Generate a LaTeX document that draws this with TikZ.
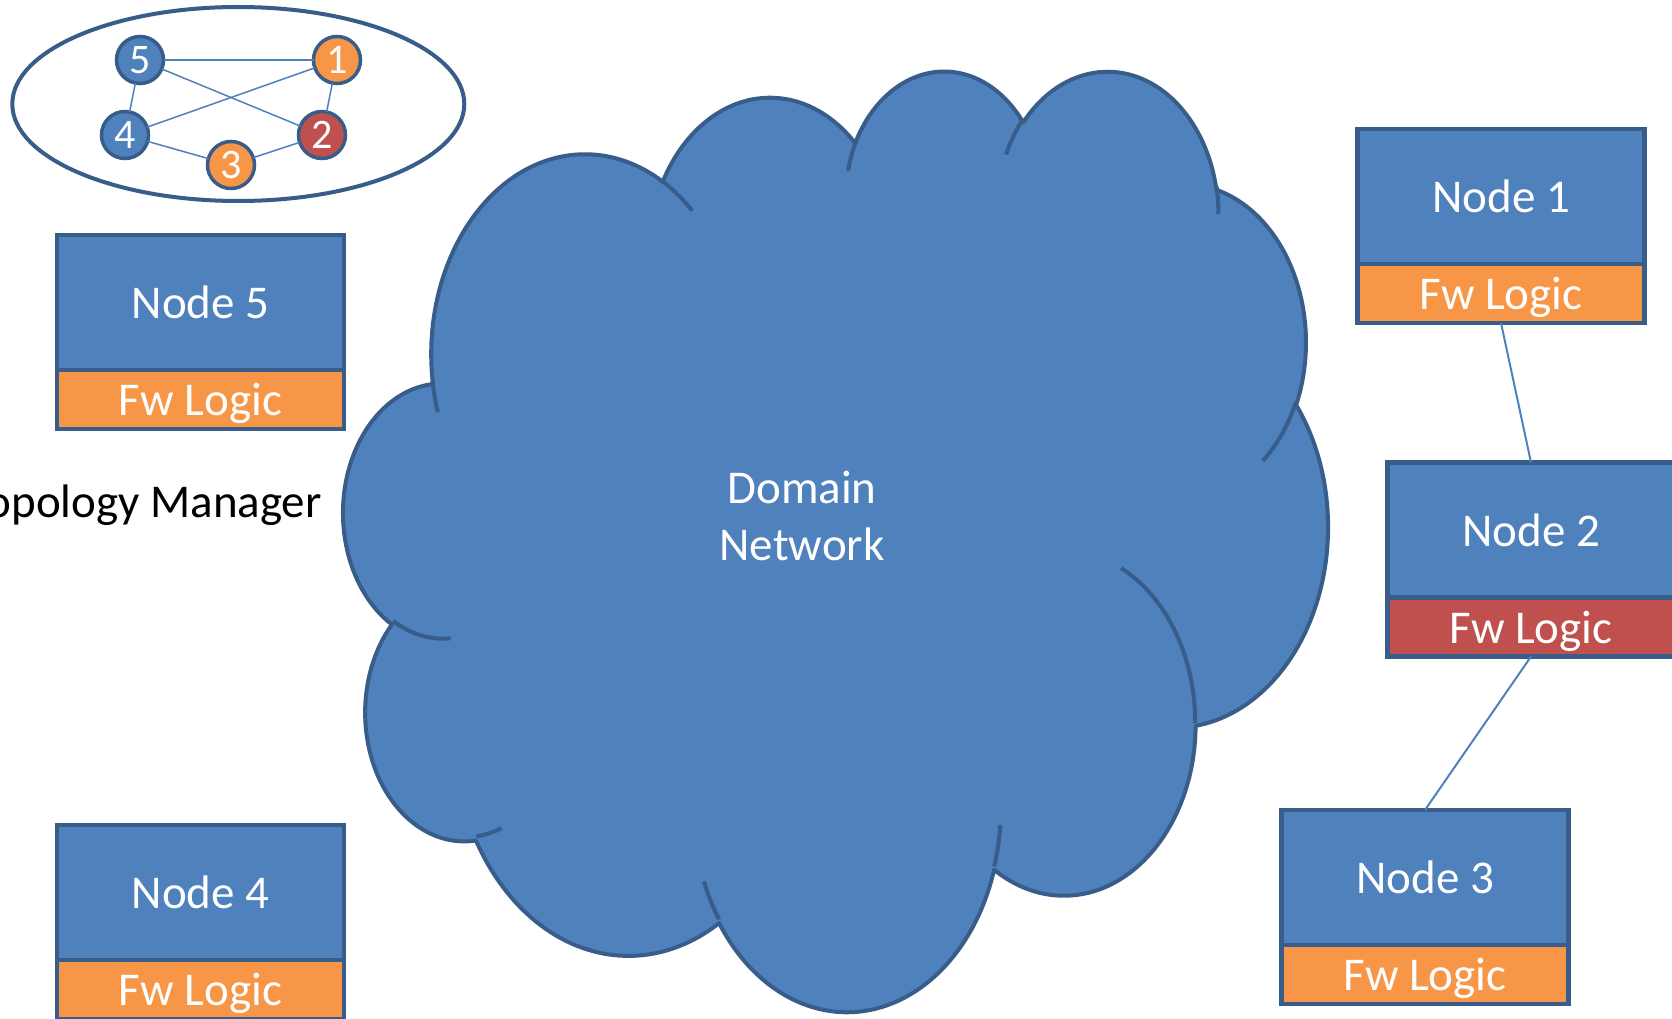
\documentclass[tikz,border=0pt]{standalone}
\usepackage{fontspec}
\setmainfont{Carlito}
\usetikzlibrary{positioning}

\definecolor{boxblue}{HTML}{4F81BD}
\definecolor{rimblue}{HTML}{385D8A}
\definecolor{fworange}{HTML}{F79646}
\definecolor{fwred}{HTML}{C0504D}

\newcommand\bigfont{\fontsize{47}{57.5}\selectfont}
\newcommand\numfont{\fontsize{42}{42}\selectfont}

% cloud on the 43200 grid, numbers given in thousands
\newcommand\cloudx{22.774}
\newcommand\cloudy{21.767}
\newcommand\cloudpt[2]{({343.8+#1*\cloudx},{68.45+#2*\cloudy})}
\newcommand\cloudmove[3]{\xdef#1{#1 \cloudpt{#2}{#3}}}
\newcommand\cloudarc[5]{%
  \pgfmathsetmacro\cla{atan2(#2*sin(#4),#3*cos(#4))}%
  \pgfmathsetmacro\clb{atan2(#2*sin(#4+#5),#3*cos(#4+#5))}%
  \pgfmathsetmacro\cld{\clb-\cla}%
  \pgfmathsetmacro\cld{\cld+360*(\cld<0)}%
  \pgfmathsetmacro\cls{-(\cla)}%
  \pgfmathsetmacro\cle{-(\cld)}%
  \pgfmathsetmacro\clrx{#2*\cloudx}%
  \pgfmathsetmacro\clry{#3*\cloudy}%
  \xdef#1{#1 arc[start angle=\cls, delta angle=\cle, x radius=\clrx pt, y radius=\clry pt]}%
}

\begin{document}
\begin{tikzpicture}[x=1pt, y=-1pt,
    nodebox/.style={draw=rimblue, fill=boxblue, line width=4.5pt, minimum width=287pt,
      minimum height=135pt, inner sep=0pt, outer sep=0pt, text=white, font=\bigfont},
    fwbox/.style={nodebox, minimum height=59pt, text depth=0pt},
    tnode/.style={draw=rimblue, circle, line width=3.5pt, minimum size=47pt,
      inner sep=0pt, outer sep=0pt, text=white, font=\numfont},
    link/.style={draw=boxblue, line width=2pt},
    rim/.style={draw=rimblue, line width=4pt}]
    \useasboundingbox (0,0) rectangle (1672,1019);
    \clip (0,0) rectangle (1672,1019);

    % domain network cloud
    \gdef\cloudout{}
    \cloudmove\cloudout{3.900}{14.370}
    \cloudarc\cloudout{6.753}{9.190}{-190.4875}{123.7805}
    \cloudarc\cloudout{5.333}{7.267}{-144.1024}{89.9452}
    \cloudarc\cloudout{4.365}{5.945}{-145.8079}{99.7230}
    \cloudarc\cloudout{4.857}{6.595}{-130.9861}{117.2417}
    \cloudarc\cloudout{5.333}{7.273}{-78.7089}{109.0269}
    \cloudarc\cloudout{6.775}{9.220}{-46.2673}{130.2690}
    \cloudarc\cloudout{5.785}{7.867}{0.6250}{114.0333}
    \cloudarc\cloudout{6.752}{9.215}{22.4516}{115.1726}
    \cloudarc\cloudout{7.720}{10.543}{66.2426}{75.7110}
    \cloudarc\cloudout{4.360}{5.918}{-274.9421}{146.7356}
    \cloudarc\cloudout{4.345}{5.945}{-246.8285}{152.5189}
    \path[fill=boxblue, rim, line join=round] \cloudout -- cycle;

    \gdef\cloudin{}
    \cloudmove\cloudin{4.693}{26.177}  \cloudarc\cloudin{4.345}{5.945}{86.7420}{26.4295}
    \cloudmove\cloudin{6.928}{34.899}  \cloudarc\cloudin{4.360}{5.918}{73.6105}{11.4475}
    \cloudmove\cloudin{16.478}{39.090} \cloudarc\cloudin{6.752}{9.215}{137.6242}{14.0811}
    \cloudmove\cloudin{28.827}{34.751} \cloudarc\cloudin{6.752}{9.215}{6.4533}{15.9984}
    \cloudmove\cloudin{34.129}{22.954} \cloudarc\cloudin{5.785}{7.867}{-70.2924}{70.9174}
    \cloudmove\cloudin{41.798}{15.354} \cloudarc\cloudin{5.333}{7.273}{30.3180}{27.7515}
    \cloudmove\cloudin{38.324}{5.426}  \cloudarc\cloudin{4.857}{6.595}{-13.7443}{14.8589}
    \cloudmove\cloudin{29.078}{3.952}  \cloudarc\cloudin{4.857}{6.595}{-149.1815}{18.1954}
    \cloudmove\cloudin{22.141}{4.720}  \cloudarc\cloudin{4.365}{5.945}{-163.4943}{17.6864}
    \cloudmove\cloudin{14.000}{5.192}  \cloudarc\cloudin{6.753}{9.190}{-66.7070}{12.3194}
    \cloudmove\cloudin{4.127}{15.789}  \cloudarc\cloudin{6.753}{9.190}{157.6544}{11.8582}
    \draw[rim] \cloudin;

    \node[align=center, text=white, font=\bigfont] (dn) at (802,516) {Domain\\Network};

    % topology manager
    \draw[draw=rimblue, line width=4pt, fill=white] (238.3,104) ellipse [x radius=226pt, y radius=97pt];
    \node[tnode, fill=boxblue] (t5) at (140,60) {5};
    \node[tnode, fill=fworange] (t1) at (337,60) {1};
    \node[tnode, fill=boxblue] (t4) at (125,135) {4};
    \node[tnode, fill=fwred] (t2) at (322,135) {2};
    \node[tnode, fill=fworange] (t3) at (231,165) {3};

    \draw[link, line width=1.5pt] (t5) -- (t1);
    \draw[link, line width=1.5pt] (t5) -- (t2);
    \draw[link, line width=1.5pt] (t5) -- (t4);
    \draw[link, line width=1.5pt] (t1) -- (t4);
    \draw[link, line width=1.5pt] (t1) -- (t2);
    \draw[link, line width=1.5pt] (t4) -- (t3);
    \draw[link, line width=1.5pt] (t3) -- (t2);

    \node[anchor=base east, inner sep=0pt, font=\bigfont] (tm) at (322,517) {Topology Manager};

    % nodes
    \node[nodebox] (n5) at (200.5,302.5) {Node 5};
    \node[fwbox, fill=fworange, below=0pt of n5] (f5) {Fw Logic};

    \node[nodebox] (n4) at (200.5,892.5) {Node 4};
    \node[fwbox, fill=fworange, below=0pt of n4] (f4) {Fw Logic};

    \node[nodebox] (n1) at (1501,196.5) {Node 1};
    \node[fwbox, fill=fworange, below=0pt of n1] (f1) {Fw Logic};

    \node[nodebox] (n2) at (1531,530) {Node 2};
    \node[fwbox, fill=fwred, below=0pt of n2] (f2) {Fw Logic};

    \node[nodebox] (n3) at (1425,877.5) {Node 3};
    \node[fwbox, fill=fworange, below=0pt of n3] (f3) {Fw Logic};

    \draw[link] (f1.south) -- (n2.north);
    \draw[link] (f2.south) -- (n3.north);

\end{tikzpicture}
\end{document}
